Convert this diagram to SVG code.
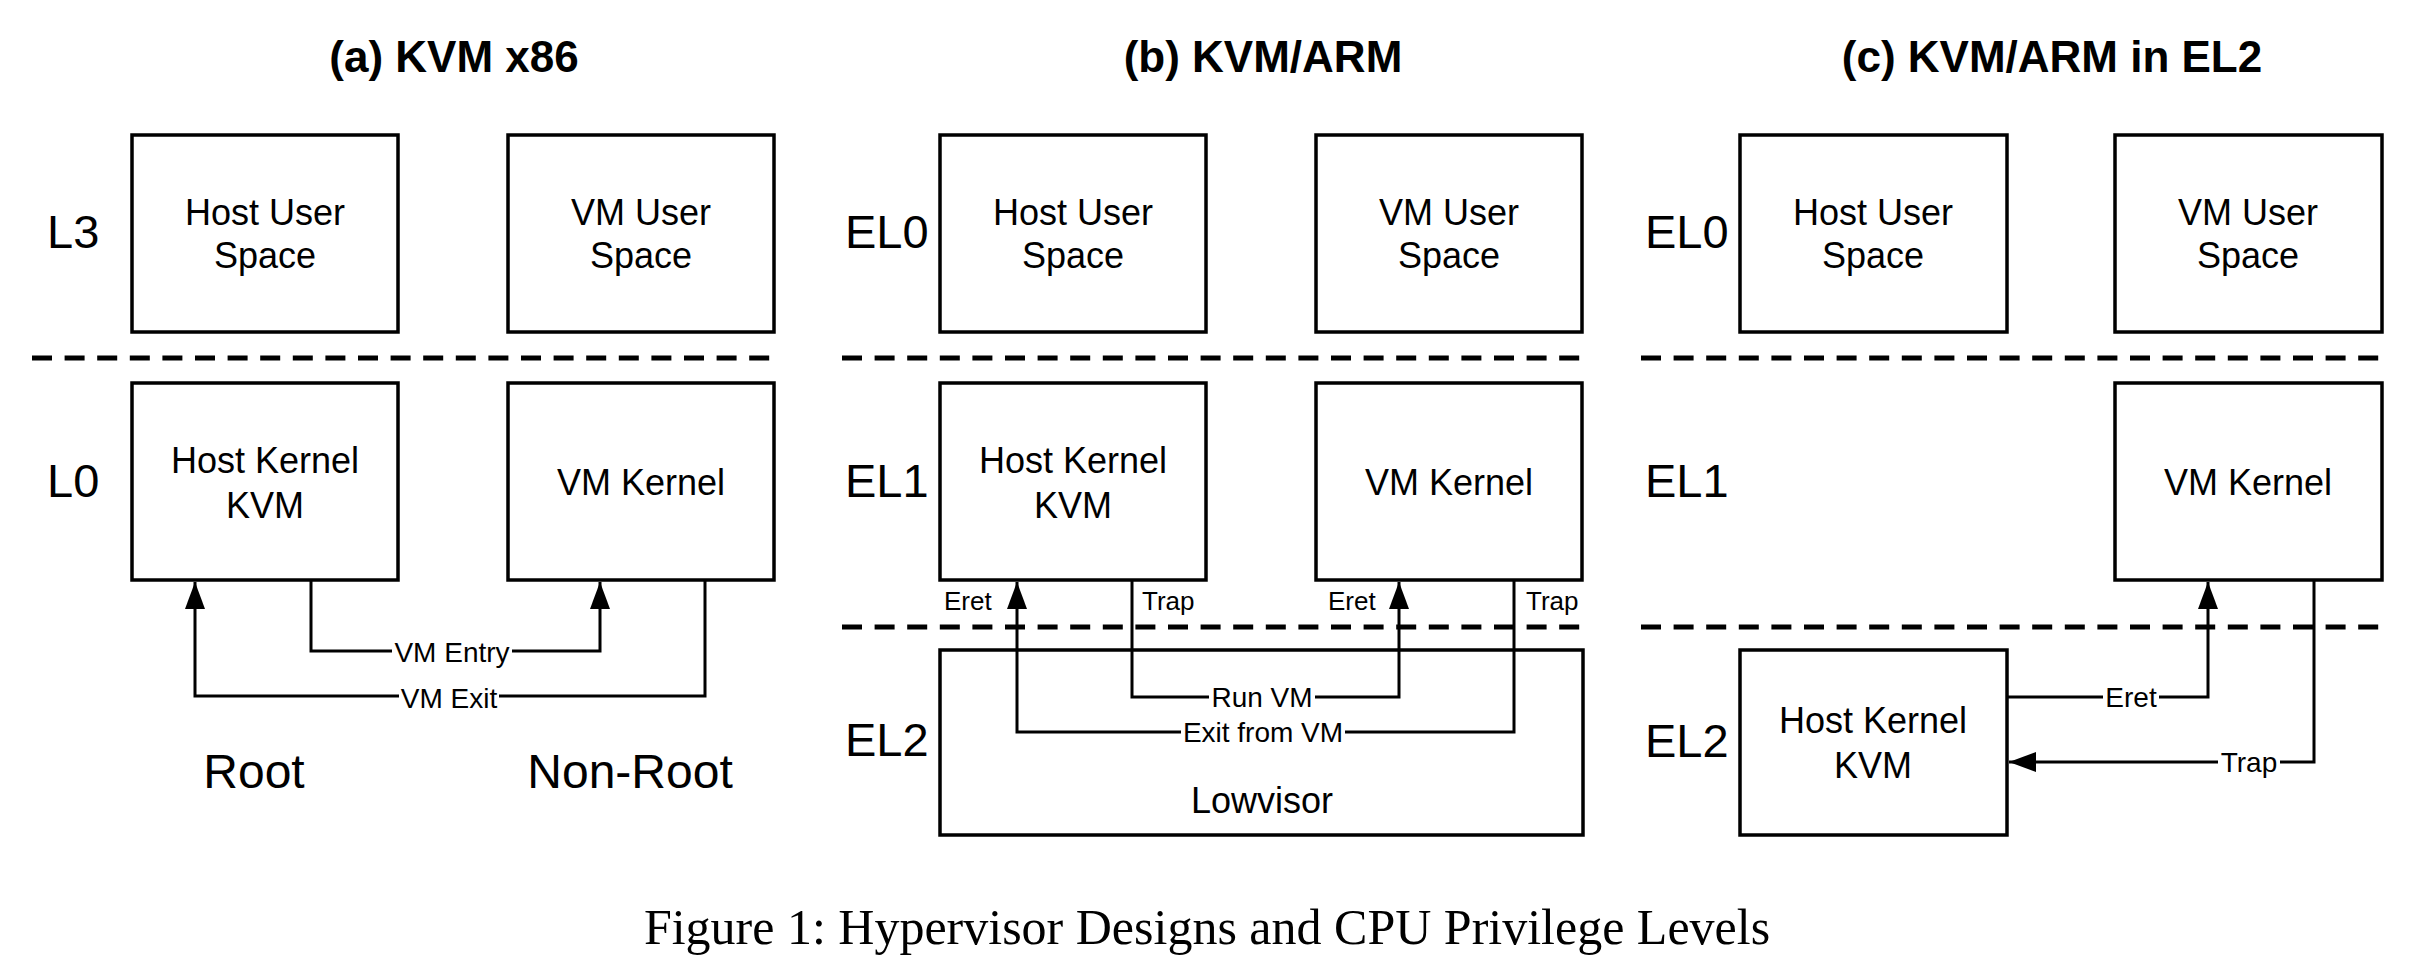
<svg xmlns="http://www.w3.org/2000/svg" width="2418" height="970" viewBox="0 0 2418 970">
<style>
.bg{fill:#fff}
.box{fill:none;stroke:#000;stroke-width:3.5}
.t{font-family:"Liberation Sans",Arial,sans-serif;fill:#000;text-anchor:middle}
.title{font-size:44px;font-weight:bold}
.node{font-size:36px}
.lvl{font-size:47px;text-anchor:start}
.big{font-size:48px}
.lab{font-size:28px}
.lbg{fill:#fff;stroke:none}
.sm{font-size:26px;text-anchor:start}
.dash{stroke:#000;stroke-width:5;stroke-dasharray:20 12.6;fill:none}
.c{fill:none;stroke:#000;stroke-width:3}
.arr{marker-end:url(#ah)}
.cap{font-family:"Liberation Serif","Times New Roman",serif;font-size:50px;text-anchor:middle;fill:#000}
</style>
<defs>
<marker id="ah" markerUnits="userSpaceOnUse" markerWidth="28" markerHeight="20" refX="27" refY="10" orient="auto" viewBox="0 0 28 20">
<path d="M0,0 L27,10 L0,20 z" fill="#000"/>
</marker>
</defs>
<rect class="bg" x="0" y="0" width="2418" height="970"/>

<!-- Titles -->
<text class="t title" x="454" y="72">(a) KVM x86</text>
<text class="t title" x="1263" y="72">(b) KVM/ARM</text>
<text class="t title" x="2052" y="72">(c) KVM/ARM in EL2</text>

<!-- Level labels and separators -->
<g id="levels">
<text class="t lvl" x="47" y="248">L3</text>
<text class="t lvl" x="47" y="497">L0</text>
<text class="t lvl" x="845" y="248">EL0</text>
<text class="t lvl" x="845" y="497">EL1</text>
<text class="t lvl" x="845" y="756">EL2</text>
<text class="t lvl" x="1645" y="248">EL0</text>
<text class="t lvl" x="1645" y="497">EL1</text>
<text class="t lvl" x="1645" y="757">EL2</text>
<line class="dash" x1="32" y1="358" x2="770" y2="358"/>
<line class="dash" x1="842" y1="358" x2="1580" y2="358"/>
<line class="dash" x1="842" y1="627" x2="1580" y2="627"/>
<line class="dash" x1="1641" y1="358" x2="2379" y2="358"/>
<line class="dash" x1="1641" y1="627" x2="2379" y2="627"/>
<text class="t big" x="254" y="788">Root</text>
<text class="t big" x="630" y="788">Non-Root</text>
</g>

<!-- Panel (a) nodes -->
<g id="a-host-user">
<rect class="box" x="132" y="135" width="266" height="197"/>
<text class="t node" x="265" y="225">Host User</text>
<text class="t node" x="265" y="268">Space</text>
</g>
<g id="a-vm-user">
<rect class="box" x="508" y="135" width="266" height="197"/>
<text class="t node" x="641" y="225">VM User</text>
<text class="t node" x="641" y="268">Space</text>
</g>
<g id="a-host-kernel">
<rect class="box" x="132" y="383" width="266" height="197"/>
<text class="t node" x="265" y="473">Host Kernel</text>
<text class="t node" x="265" y="518">KVM</text>
</g>
<g id="a-vm-kernel">
<rect class="box" x="508" y="383" width="266" height="197"/>
<text class="t node" x="641" y="495">VM Kernel</text>
</g>

<!-- Panel (b) nodes -->
<g id="b-host-user">
<rect class="box" x="940" y="135" width="266" height="197"/>
<text class="t node" x="1073" y="225">Host User</text>
<text class="t node" x="1073" y="268">Space</text>
</g>
<g id="b-vm-user">
<rect class="box" x="1316" y="135" width="266" height="197"/>
<text class="t node" x="1449" y="225">VM User</text>
<text class="t node" x="1449" y="268">Space</text>
</g>
<g id="b-host-kernel">
<rect class="box" x="940" y="383" width="266" height="197"/>
<text class="t node" x="1073" y="473">Host Kernel</text>
<text class="t node" x="1073" y="518">KVM</text>
</g>
<g id="b-vm-kernel">
<rect class="box" x="1316" y="383" width="266" height="197"/>
<text class="t node" x="1449" y="495">VM Kernel</text>
</g>
<g id="b-lowvisor">
<rect class="box" x="940" y="650" width="643" height="185"/>
<text class="t node" x="1262" y="813">Lowvisor</text>
</g>

<!-- Panel (c) nodes -->
<g id="c-host-user">
<rect class="box" x="1740" y="135" width="267" height="197"/>
<text class="t node" x="1873" y="225">Host User</text>
<text class="t node" x="1873" y="268">Space</text>
</g>
<g id="c-vm-user">
<rect class="box" x="2115" y="135" width="267" height="197"/>
<text class="t node" x="2248" y="225">VM User</text>
<text class="t node" x="2248" y="268">Space</text>
</g>
<g id="c-vm-kernel">
<rect class="box" x="2115" y="383" width="267" height="197"/>
<text class="t node" x="2248" y="495">VM Kernel</text>
</g>
<g id="c-host-kernel">
<rect class="box" x="1740" y="650" width="267" height="185"/>
<text class="t node" x="1873" y="733">Host Kernel</text>
<text class="t node" x="1873" y="778">KVM</text>
</g>

<!-- Connectors -->
<g id="connectors">
<polyline class="c arr" points="705,580 705,696 195,696 195,582"/>
<polyline class="c arr" points="311,580 311,651 600,651 600,582"/>
<rect class="lbg" x="392" y="638" width="120" height="26"/>
<text class="t lab" x="452" y="662">VM Entry</text>
<rect class="lbg" x="399" y="683" width="100" height="26"/>
<text class="t lab" x="449" y="708">VM Exit</text>

<polyline class="c arr" points="1132,580 1132,697 1399,697 1399,582"/>
<polyline class="c arr" points="1514,580 1514,732 1017,732 1017,582"/>
<rect class="lbg" x="1209" y="684" width="106" height="26"/>
<text class="t lab" x="1262" y="707">Run VM</text>
<rect class="lbg" x="1181" y="719" width="164" height="26"/>
<text class="t lab" x="1263" y="742">Exit from VM</text>
<text class="t sm" x="944" y="610">Eret</text>
<text class="t sm" x="1142" y="610">Trap</text>
<text class="t sm" x="1328" y="610">Eret</text>
<text class="t sm" x="1526" y="610">Trap</text>

<polyline class="c arr" points="2007,697 2208,697 2208,582"/>
<polyline class="c arr" points="2314,580 2314,762 2009,762"/>
<rect class="lbg" x="2103" y="684" width="56" height="26"/>
<text class="t lab" x="2131" y="707">Eret</text>
<rect class="lbg" x="2218" y="749" width="62" height="26"/>
<text class="t lab" x="2249" y="772">Trap</text>
</g>

<text class="cap" x="1207" y="944">Figure 1: Hypervisor Designs and CPU Privilege Levels</text>
</svg>
